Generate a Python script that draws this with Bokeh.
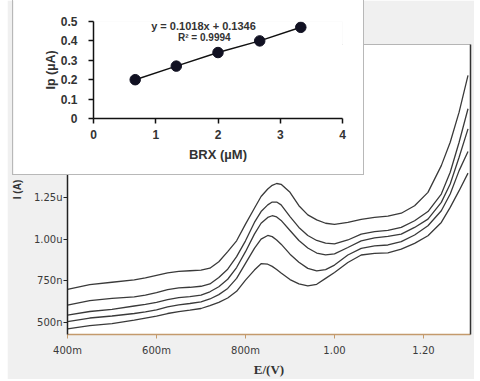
from bokeh.plotting import figure
from bokeh.models import Range1d, FixedTicker, LinearAxis, Label
from bokeh.layouts import column
from bokeh.embed import file_html
from bokeh.resources import INLINE

# ---------------- main voltammograms (current in microamps) ----------------
potential = [0.40, 0.45, 0.50, 0.55, 0.575, 0.60, 0.625, 0.65, 0.675, 0.70, 0.72, 0.74,
             0.76, 0.78, 0.80, 0.82, 0.835, 0.85, 0.86, 0.87, 0.88, 0.90, 0.92, 0.94,
             0.96, 0.98, 1.00, 1.03, 1.06, 1.09, 1.12, 1.15, 1.18, 1.21, 1.24, 1.26, 1.28, 1.30]
curve_1 = [0.700, 0.728, 0.742, 0.756, 0.768, 0.783, 0.798, 0.807, 0.811, 0.815, 0.826, 0.865,
           0.925, 0.990, 1.090, 1.185, 1.255, 1.300, 1.322, 1.333, 1.328, 1.280, 1.200, 1.145,
           1.115, 1.095, 1.088, 1.100, 1.118, 1.130, 1.138, 1.155, 1.200, 1.280, 1.440, 1.580,
           1.760, 1.980]
curve_2 = [0.605, 0.632, 0.645, 0.655, 0.665, 0.680, 0.698, 0.708, 0.712, 0.718, 0.732, 0.770,
           0.820, 0.895, 0.990, 1.100, 1.165, 1.205, 1.222, 1.222, 1.205, 1.135, 1.070, 1.022,
           0.992, 0.976, 0.972, 0.995, 1.030, 1.045, 1.052, 1.070, 1.110, 1.165, 1.270, 1.400,
           1.580, 1.780]
curve_3 = [0.545, 0.567, 0.580, 0.600, 0.610, 0.622, 0.638, 0.650, 0.656, 0.665, 0.685, 0.715,
           0.760, 0.830, 0.925, 1.030, 1.095, 1.130, 1.140, 1.133, 1.112, 1.052, 0.992, 0.947,
           0.917, 0.906, 0.912, 0.950, 0.990, 1.008, 1.016, 1.030, 1.070, 1.120, 1.220, 1.330,
           1.490, 1.660]
curve_4 = [0.506, 0.528, 0.540, 0.555, 0.565, 0.577, 0.595, 0.607, 0.615, 0.625, 0.642, 0.668,
           0.705, 0.765, 0.855, 0.945, 1.000, 1.022, 1.015, 0.995, 0.970, 0.910, 0.862, 0.825,
           0.810, 0.818, 0.845, 0.905, 0.945, 0.960, 0.965, 0.985, 1.025, 1.080, 1.170, 1.270,
           1.410, 1.525]
curve_5 = [0.463, 0.483, 0.495, 0.515, 0.528, 0.540, 0.555, 0.566, 0.575, 0.585, 0.602, 0.622,
           0.648, 0.688, 0.755, 0.815, 0.853, 0.850, 0.837, 0.818, 0.797, 0.758, 0.732, 0.720,
           0.730, 0.765, 0.800, 0.860, 0.905, 0.915, 0.918, 0.940, 0.975, 1.020, 1.100, 1.190,
           1.290, 1.395]
curves = [curve_1, curve_2, curve_3, curve_4, curve_5]

x_ticks = [0.4, 0.6, 0.8, 1.0, 1.2]
x_tick_labels = ["400m", "600m", "800m", "1.00", "1.20"]
y_ticks = [0.5, 0.75, 1.0, 1.25]
y_tick_labels = ["500n", "750n", "1.00u", "1.25u"]

# ---------------- inset calibration ----------------
brx = [0.67, 1.33, 2.0, 2.67, 3.33]
ip = [0.20, 0.27, 0.34, 0.40, 0.47]
inset_x_ticks = [0, 1, 2, 3, 4]
inset_x_labels = ["0", "1", "2", "3", "4"]
inset_y_ticks = [0, 0.1, 0.2, 0.3, 0.4, 0.5]
inset_y_labels = ["0", "0.1", "0.2", "0.3", "0.4", "0.5"]
equation_text = "y = 0.1018x + 0.1346"
r2_text = "R\u00b2 = 0.9994"

# ======================= main figure =======================
main = figure(width=467, height=379,
              x_range=Range1d(0.4, 1.3056), y_range=Range1d(0.4294, 2.1647),
              output_backend="svg", toolbar_location=None,
              min_border_left=60, min_border_right=4, min_border_top=44, min_border_bottom=40,
              background_fill_color="white", border_fill_color="#f0f0f0",
              outline_line_color=None, margin=(0, 0, 0, 7))
main.xgrid.visible = False
main.ygrid.visible = False

for c in curves:
    main.line(potential, c, line_color="#3a3a3a", line_width=1.3)

xa = main.xaxis[0]
xa.ticker = FixedTicker(ticks=x_ticks)
xa.major_label_overrides = dict(zip(x_ticks, x_tick_labels))
xa.axis_line_color = "#c49a6c"
xa.axis_line_width = 1.5
xa.major_tick_line_color = "#c49a6c"
xa.major_tick_out = 4
xa.major_tick_in = 0
xa.minor_tick_line_color = None
xa.major_label_standoff = 6
xa.major_label_text_font = "DejaVu Sans"
xa.major_label_text_font_size = "10px"
xa.major_label_text_color = "#3a3a3a"
xa.axis_label = "E/(V)"
xa.axis_label_text_font = "Liberation Serif"
xa.axis_label_text_font_size = "13px"
xa.axis_label_text_font_style = "bold"
xa.axis_label_text_color = "#333333"
xa.axis_label_standoff = 3

ya = main.yaxis[0]
ya.ticker = FixedTicker(ticks=y_ticks)
ya.major_label_overrides = dict(zip(y_ticks, y_tick_labels))
ya.axis_line_color = "#222222"
ya.axis_line_width = 1.5
ya.major_tick_line_color = "#222222"
ya.major_tick_out = 4
ya.major_tick_in = 0
ya.minor_tick_line_color = None
ya.major_label_standoff = 1
ya.major_label_text_font = "DejaVu Sans"
ya.major_label_text_font_size = "10px"
ya.major_label_text_color = "#3a3a3a"
ya.axis_label = "I (A)"
ya.axis_label_text_font = "Liberation Sans"
ya.axis_label_text_font_size = "10px"
ya.axis_label_text_font_style = "bold"
ya.axis_label_text_color = "#333333"
ya.axis_label_standoff = 8

right_axis = LinearAxis(ticker=FixedTicker(ticks=[]), axis_line_color="#333333", axis_line_width=1.5,
                        major_tick_out=0, major_tick_in=0, minor_tick_out=0, minor_tick_in=0,
                        major_label_standoff=0, major_label_text_font_size="0px")
main.add_layout(right_axis, "right")
top_axis = LinearAxis(ticker=FixedTicker(ticks=[]), axis_line_color="#b5b5b5", axis_line_width=1,
                      major_tick_out=0, major_tick_in=0, minor_tick_out=0, minor_tick_in=0,
                      major_label_standoff=0, major_label_text_font_size="0px")
main.add_layout(top_axis, "above")

# ======================= inset figure =======================
inset = figure(width=350, height=179,
               x_range=Range1d(0, 4), y_range=Range1d(0, 0.5),
               output_backend="svg", toolbar_location=None,
               min_border_left=80, min_border_right=21, min_border_top=26, min_border_bottom=56,
               background_fill_color="white", border_fill_color="white",
               outline_line_color=None,
               styles={"outline": "1px solid #b8b8b8"})
inset.xgrid.visible = False
inset.ygrid.visible = False

inset.line(brx, ip, line_color="#111111", line_width=1.5)
inset.scatter(brx, ip, size=10.5, fill_color="#111122", line_color="#111122")

ix = inset.xaxis[0]
ix.ticker = FixedTicker(ticks=inset_x_ticks)
ix.major_label_overrides = dict(zip(inset_x_ticks, inset_x_labels))
iy = inset.yaxis[0]
iy.ticker = FixedTicker(ticks=inset_y_ticks)
iy.major_label_overrides = dict(zip(inset_y_ticks, inset_y_labels))
for ax in (ix, iy):
    ax.axis_line_color = "#111111"
    ax.axis_line_width = 1.5
    ax.major_tick_line_color = "#111111"
    ax.major_tick_line_width = 1.5
    ax.major_tick_out = 5
    ax.major_tick_in = 0
    ax.minor_tick_line_color = None
    ax.major_label_text_font = "Liberation Sans"
    ax.major_label_text_font_style = "bold"
    ax.major_label_text_font_size = "12px"
    ax.major_label_text_color = "#333333"
    ax.axis_label_text_font = "Liberation Sans"
    ax.axis_label_text_font_style = "bold"
    ax.axis_label_text_color = "#333333"
ix.major_label_standoff = 6
ix.axis_label = "BRX (\u00b5M)"
ix.axis_label_text_font_size = "13px"
ix.axis_label_standoff = 5
iy.major_label_standoff = 11
iy.axis_label = "Ip (\u00b5A)"
iy.axis_label_text_font_size = "12.5px"
iy.axis_label_standoff = 0

inset.add_layout(Label(x=1.767, y=0.478, text=equation_text, text_align="center",
                       text_baseline="middle", text_font="Liberation Sans",
                       text_font_style="bold", text_font_size="11px", text_color="#333333"))
inset.add_layout(Label(x=1.78, y=0.415, text=r2_text, text_align="center",
                       text_baseline="middle", text_font="Liberation Sans",
                       text_font_style="bold", text_font_size="10px", text_color="#333333"))

inset_box = column(inset, margin=(-384, 0, 0, 13))
layout = column(main, inset_box)
open("out.html", "w").write(file_html(layout, INLINE))
